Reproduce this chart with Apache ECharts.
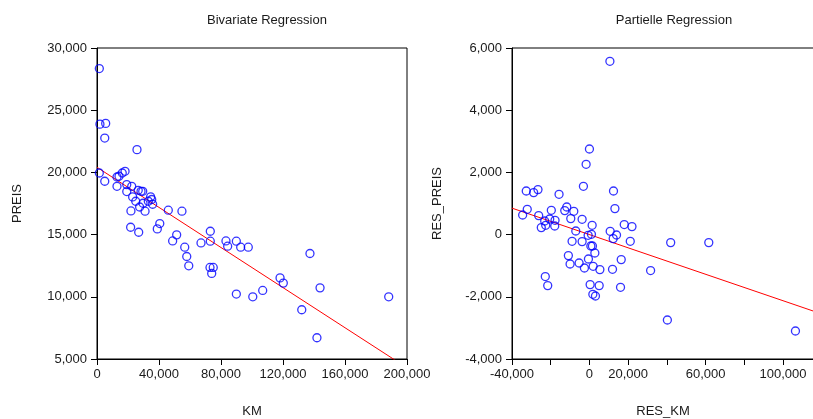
<!DOCTYPE html>
<html>
<head>
<meta charset="utf-8">
<script src="https://cdn.jsdelivr.net/npm/echarts@6/dist/echarts.min.js"></script>
<style>
  html, body { margin: 0; padding: 0; background: #fff; }
  #chart { width: 813px; height: 419px; }
</style>
</head>
<body>
<div id="chart"></div>
<script>
// Bivariate regression: price (PREIS) against mileage (KM)
const km = [1500, 1900, 5600, 5000, 25800, 1500, 5000, 12900, 14200, 16300,
  18100, 12900, 19200, 22400, 19200, 23000, 26600, 28400, 29500, 25000,
  34600, 35300, 29700, 33100, 35900, 27500, 31000, 21900, 46000, 54800,
  21700, 26900, 40500, 38900, 51400, 48800, 56600, 57900, 59200, 67100,
  73100, 73100, 72900, 75000, 74000, 83200, 84300, 89900, 92700, 97600,
  89900, 100500, 137400, 118100, 120200, 143900, 106900, 188200, 132100, 141900];
const preis = [28350, 23880, 23940, 22760, 21830, 19950, 19290, 19630, 19690, 19950,
  20090, 18880, 19020, 18880, 18460, 18030, 18560, 18480, 18480, 17680,
  18030, 17820, 17520, 17680, 17440, 17220, 16880, 16900, 16960, 16880,
  15590, 15190, 15890, 15460, 14980, 14490, 13990, 13240, 12490, 14330,
  15270, 14470, 12360, 12360, 11880, 14490, 14070, 14470, 13990, 13990,
  10220, 10000, 13480, 11520, 11100, 10720, 10510, 10000, 8960, 6710];
const bivIntercept = 20410;
const bivSlope = -0.0806;

// Partial regression: residuals of PREIS against residuals of KM
const resKm = [10570, 0, -1710, -3110, 12430, -32640, -28810, -26580, -15700, 13160,
  -32120, -34500, -26220, -19690, -11710, -12750, -8080, -9640, -3780, -24870,
  -22590, -20520, -17770, -17930, -7050, 1400, -670, 1040, -8960, -3780,
  730, 1550, 2800, -10880, -10000, -5340, -2590, -520, 1920, 5390,
  10720, 13990, 12280, 17980, 21970, 21090, 16420, 11920, 31600, -22800,
  -21550, 360, 5030, 16060, 1760, 3110, 41970, 61650, 40260, 106420, -23110];
const resPreis = [5572, 2752, 2260, 1553, 1402, 1402, 1350, 1447, 1296, 836,
  813, 630, 611, 781, 887, 772, 749, 514, 492, 225,
  299, 502, 460, 276, 116, 299, -23, 10, -215, -225,
  -367, -367, -592, -675, -945, -913, -1074, -784, -1019, -1125,
  106, -13, -129, 322, 257, -215, -804, -1116, -1157, -1350,
  -1640, -1608, -1640, -1694, -1919, -1974, -257, -257, -2746, -3099, 437];
const parSlope = -0.02126;
const parIntercept = 0;

const kmTicks = [0, 40000, 80000, 120000, 160000, 200000];
const resKmTicks = [-40000, -20000, 0, 20000, 40000, 60000, 80000, 100000];
const resKmLabels = [-40000, 0, 20000, 60000, 100000];

const KM_MIN = 0, KM_MAX = 200000;
const RES_KM_MIN = -40000, RES_KM_MAX = 116000;

const FONT = '"Liberation Sans", Arial, Helvetica, sans-serif';
const fmt = v => v.toLocaleString('en-US');

function pairs(xs, ys) { return xs.map((x, i) => [x, ys[i]]); }
function fitLine(a, b, x0, x1) { return [[x0, a + b * x0], [x1, a + b * x1]]; }

const axisText = { color: '#1a1a1a', fontFamily: FONT, fontSize: 13 };
const axisLine = { show: true, onZero: false, lineStyle: { color: '#000', width: 1 } };
const axisTick = { show: true, inside: false, length: 6, lineStyle: { color: '#000' } };

const chart = echarts.init(document.getElementById('chart'), null, { renderer: 'canvas' });

chart.setOption({
  animation: false,
  backgroundColor: '#fff',
  title: [
    { text: 'Bivariate Regression', left: 262, top: 9, textAlign: 'center',
      textStyle: { fontFamily: FONT, fontSize: 13, fontWeight: 'normal', color: '#1a1a1a' } },
    { text: 'Partielle Regression', left: 669, top: 9, textAlign: 'center',
      textStyle: { fontFamily: FONT, fontSize: 13, fontWeight: 'normal', color: '#1a1a1a' } }
  ],
  grid: [
    { left: 97, top: 48, width: 310, height: 311, outerBoundsMode: 'none', containLabel: false,
      show: true, borderColor: '#000', borderWidth: 1, backgroundColor: 'transparent' },
    { left: 512, top: 48, width: 302, height: 311, outerBoundsMode: 'none', containLabel: false,
      show: true, borderColor: '#000', borderWidth: 1, backgroundColor: 'transparent' }
  ],
  xAxis: [
    { gridIndex: 0, type: 'value', min: KM_MIN, max: KM_MAX, interval: 40000,
      name: 'KM', nameLocation: 'middle', nameGap: 46, nameTextStyle: axisText,
      axisLine, axisTick, splitLine: { show: false },
      axisLabel: Object.assign({ margin: 9, formatter: fmt, customValues: kmTicks }, axisText) },
    { gridIndex: 1, type: 'value', min: RES_KM_MIN, max: RES_KM_MAX, interval: 20000,
      name: 'RES_KM', nameLocation: 'middle', nameGap: 46, nameTextStyle: axisText,
      axisLine, splitLine: { show: false },
      axisTick: Object.assign({}, axisTick, { customValues: resKmTicks }),
      axisLabel: Object.assign({ margin: 9, formatter: fmt, customValues: resKmLabels }, axisText) }
  ],
  yAxis: [
    { gridIndex: 0, type: 'value', min: 5000, max: 30000, interval: 5000,
      name: 'PREIS', nameLocation: 'middle', nameGap: 73, nameTextStyle: axisText,
      axisLine, axisTick, splitLine: { show: false },
      axisLabel: Object.assign({ margin: 10, formatter: fmt }, axisText) },
    { gridIndex: 1, type: 'value', min: -4000, max: 6000, interval: 2000,
      name: 'RES_PREIS', nameLocation: 'middle', nameGap: 68, nameTextStyle: axisText,
      axisLine, axisTick, splitLine: { show: false },
      axisLabel: Object.assign({ margin: 10, formatter: fmt }, axisText) }
  ],
  series: [
    { type: 'line', xAxisIndex: 0, yAxisIndex: 0, data: fitLine(bivIntercept, bivSlope, KM_MIN, KM_MAX),
      showSymbol: false, clip: true, lineStyle: { color: '#ff0000', width: 1 }, z: 3 },
    { type: 'scatter', xAxisIndex: 0, yAxisIndex: 0, data: pairs(km, preis),
      symbol: 'circle', symbolSize: 8, clip: false,
      itemStyle: { color: 'transparent', borderColor: '#0000ff', borderWidth: 1.3 }, z: 4 },
    { type: 'line', xAxisIndex: 1, yAxisIndex: 1, data: fitLine(parIntercept, parSlope, RES_KM_MIN, RES_KM_MAX),
      showSymbol: false, clip: true, lineStyle: { color: '#ff0000', width: 1 }, z: 3 },
    { type: 'scatter', xAxisIndex: 1, yAxisIndex: 1, data: pairs(resKm, resPreis),
      symbol: 'circle', symbolSize: 8, clip: false,
      itemStyle: { color: 'transparent', borderColor: '#0000ff', borderWidth: 1.3 }, z: 4 }
  ]
});
</script>
</body>
</html>
